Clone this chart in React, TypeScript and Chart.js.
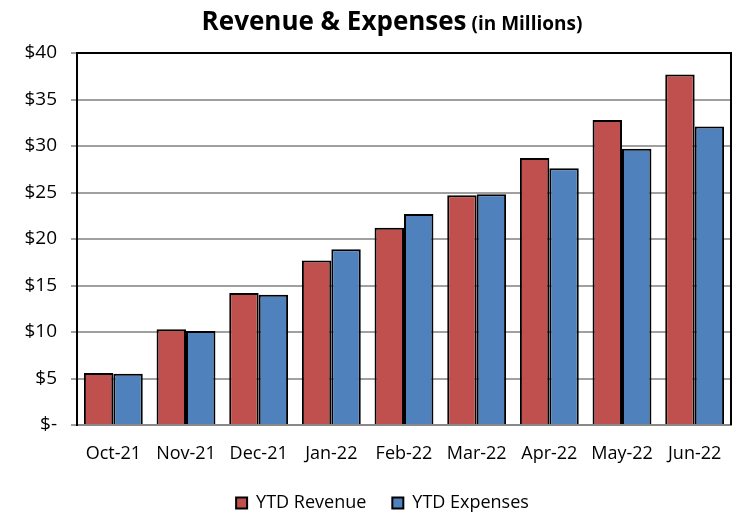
import React, { useEffect, useRef } from "react";
import { Chart, registerables } from "chart.js";

Chart.register(...registerables);

const categories = ["Oct-21", "Nov-21", "Dec-21", "Jan-22", "Feb-22", "Mar-22", "Apr-22", "May-22", "Jun-22"];
const ytdRevenue = [5.6, 10.3, 14.2, 17.7, 21.2, 24.7, 28.7, 32.8, 37.7];
const ytdExpenses = [5.5, 10.1, 14.0, 18.9, 22.7, 24.8, 27.6, 29.7, 32.1];
const yTicks = [0, 5, 10, 15, 20, 25, 30, 35, 40];
const titleMain = "Revenue & Expenses";
const titleSub = " (in Millions)";

const FONT = "'Open Sans', Lato, sans-serif";

const legendShiftPlugin = {
  id: "legendShift",
  afterLayout(chart: any) {
    const lg = chart.legend;
    if (lg) {
      lg.left += 17;
      lg.right += 17;
    }
  },
};

const titlePlugin = {
  id: "twoPartTitle",
  afterDraw(chart: any) {
    const ctx = chart.ctx;
    const area = chart.chartArea;
    ctx.save();
    ctx.fillStyle = "#000";
    ctx.textBaseline = "alphabetic";
    ctx.font = `bold 26px ${FONT}`;
    const w1 = ctx.measureText(titleMain).width;
    ctx.font = `bold 19px ${FONT}`;
    const w2 = ctx.measureText(titleSub).width;
    const cx = 392;
    const x0 = cx - (w1 + w2) / 2;
    ctx.font = `bold 26px ${FONT}`;
    ctx.fillText(titleMain, x0, 30);
    ctx.font = `bold 19px ${FONT}`;
    ctx.fillText(titleSub, x0 + w1, 30);
    // frame top and right
    ctx.strokeStyle = "#000";
    ctx.lineWidth = 2;
    ctx.beginPath();
    ctx.moveTo(area.left, area.top);
    ctx.lineTo(area.right, area.top);
    ctx.lineTo(area.right, area.bottom);
    ctx.stroke();
    ctx.restore();
  },
};

export default function App() {
  const ref = useRef<HTMLCanvasElement>(null);
  useEffect(() => {
    document.body.style.margin = "0";
    const chart = new Chart(ref.current as HTMLCanvasElement, {
      type: "bar",
      data: {
        labels: categories,
        datasets: [
          {
            label: "YTD Revenue",
            data: ytdRevenue,
            backgroundColor: "#C0504D",
            borderColor: "#000",
            borderWidth: 2,
          },
          {
            label: "YTD Expenses",
            data: ytdExpenses,
            backgroundColor: "#4F81BD",
            borderColor: "#000",
            borderWidth: 2,
          },
        ],
      },
      options: {
        animation: false,
        responsive: false,
        maintainAspectRatio: false,
        datasets: { bar: { categoryPercentage: 0.81, barPercentage: 1 } },
        layout: { padding: { top: 53, right: 9, left: 0, bottom: -8 } },
        plugins: {
          legend: {
            position: "bottom",
            labels: {
              font: { family: FONT, size: 18 },
              color: "#000",
              boxWidth: 11,
              boxHeight: 11,
              padding: 26,
              useBorderRadius: false,
            },
          },
          tooltip: { enabled: false },
          title: { display: false },
        },
        scales: {
          x: {
            grid: { display: false, drawTicks: false },
            border: { color: "#888", width: 2 },
            ticks: { font: { family: FONT, size: 18 }, color: "#000", padding: 18 },
            afterFit(scale: any) {
              scale.height = 43;
            },
          },
          y: {
            min: 0,
            max: 40,
            afterBuildTicks(scale: any) {
              scale.ticks = yTicks.map((v) => ({ value: v }));
            },
            grid: { color: "#A0A0A0", lineWidth: 2, tickLength: 6, tickColor: "#A0A0A0" },
            border: { color: "#000", width: 2 },
            ticks: {
              font: { family: FONT, size: 19 },
              color: "#000",
              padding: 14,
              callback: (v: any) => (Number(v) === 0 ? "$-" : "$" + v),
            },
            afterFit(scale: any) {
              scale.width = 77;
            },
          },
        },
      },
      plugins: [legendShiftPlugin, titlePlugin],
    });
    return () => chart.destroy();
  }, []);
  return (
    <div style={{ width: 740, height: 514, background: "#fff" }}>
      <canvas ref={ref} width={740} height={514} style={{ width: 740, height: 514, display: "block" }} />
    </div>
  );
}
